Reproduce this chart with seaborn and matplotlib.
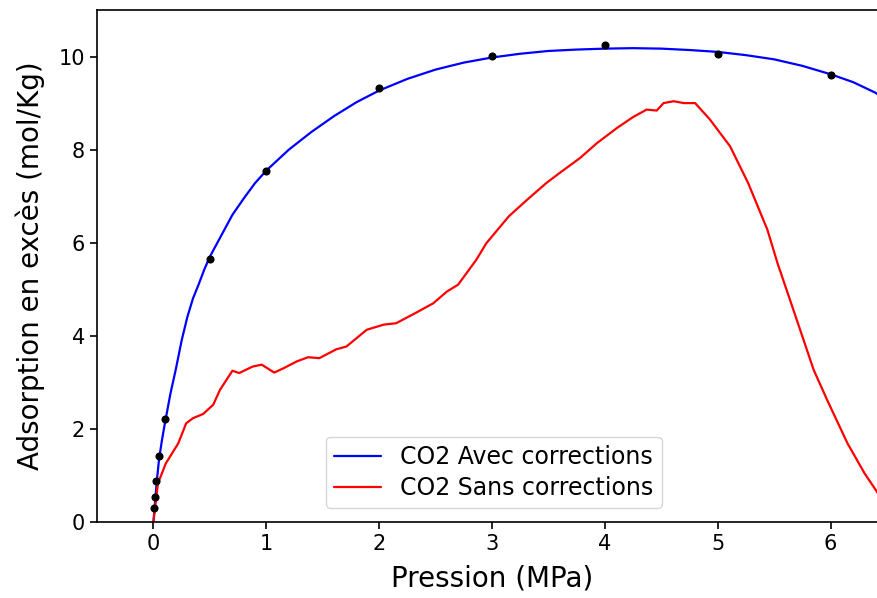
import matplotlib
matplotlib.use("Agg")
import matplotlib.pyplot as plt
import seaborn as sns
import pandas as pd

# Blue curve (CO2 avec corrections)
blue_x = [0.0, 0.01, 0.02, 0.035, 0.05, 0.075, 0.1, 0.15, 0.2, 0.25, 0.3, 0.35, 0.4, 0.45, 0.5,
          0.6, 0.7, 0.8, 0.9, 1.0, 1.2, 1.4, 1.6, 1.8, 2.0, 2.25, 2.5, 2.75, 3.0, 3.25, 3.5,
          3.75, 4.0, 4.25, 4.5, 4.75, 5.0, 5.25, 5.5, 5.75, 6.0, 6.2, 6.4, 6.6]
blue_y = [0.0, 0.3, 0.6, 1.0, 1.35, 1.75, 2.1, 2.75, 3.3, 3.9, 4.4, 4.8, 5.1, 5.42, 5.7,
          6.15, 6.6, 6.95, 7.28, 7.55, 8.0, 8.38, 8.72, 9.02, 9.27, 9.52, 9.72, 9.87, 9.98, 10.06, 10.12,
          10.15, 10.17, 10.18, 10.17, 10.14, 10.1, 10.03, 9.94, 9.8, 9.62, 9.45, 9.22, 8.85]

# Red curve (CO2 sans corrections)
red_x = [0.0, 0.04, 0.11, 0.22, 0.29, 0.35, 0.44, 0.53, 0.59, 0.70, 0.76, 0.88, 0.96, 1.07,
         1.15, 1.27, 1.37, 1.47, 1.62, 1.71, 1.80, 1.89, 2.04, 2.15, 2.33, 2.48, 2.60, 2.70,
         2.86, 2.95, 3.15, 3.31, 3.48, 3.60, 3.78, 3.93, 4.11, 4.25, 4.37, 4.46, 4.52, 4.61,
         4.70, 4.80, 4.93, 5.11, 5.27, 5.44, 5.53, 5.68, 5.85, 5.97, 6.15, 6.30, 6.43, 6.6]
red_y = [0.0, 0.83, 1.26, 1.69, 2.12, 2.23, 2.32, 2.52, 2.84, 3.25, 3.2, 3.34, 3.38, 3.21,
         3.3, 3.45, 3.54, 3.52, 3.71, 3.77, 3.95, 4.13, 4.24, 4.27, 4.5, 4.7, 4.95, 5.1,
         5.63, 5.99, 6.57, 6.92, 7.28, 7.5, 7.82, 8.14, 8.47, 8.7, 8.86, 8.84, 9.0, 9.04,
         9.0, 9.0, 8.65, 8.07, 7.28, 6.28, 5.56, 4.49, 3.27, 2.62, 1.69, 1.05, 0.58, 0.25]

# Measured points
pts_x = [0.003, 0.01, 0.02, 0.05, 0.1, 0.5, 1.0, 2.0, 3.0, 4.0, 5.0, 6.0]
pts_y = [0.3, 0.53, 0.88, 1.42, 2.22, 5.65, 7.55, 9.32, 10.02, 10.25, 10.05, 9.6]

labels = ["CO2 Avec corrections", "CO2 Sans corrections"]

sns.set_style("ticks")
plt.rcParams["font.family"] = ["DejaVu Sans"]
plt.rcParams["text.color"] = "black"
plt.rcParams["axes.labelcolor"] = "black"
plt.rcParams["xtick.color"] = "black"
plt.rcParams["ytick.color"] = "black"

fig = plt.figure(figsize=(8.78, 5.98), dpi=100)
ax = fig.add_axes([97/878, 76/598, 790/878, 512/598])

blue_df = pd.DataFrame({"x": blue_x, "y": blue_y})
red_df = pd.DataFrame({"x": red_x, "y": red_y})
pts_df = pd.DataFrame({"x": pts_x, "y": pts_y})

sns.lineplot(data=blue_df, x="x", y="y", ax=ax, color="blue", lw=1.6, sort=False, label=labels[0])
sns.lineplot(data=red_df, x="x", y="y", ax=ax, color="red", lw=1.6, sort=False, label=labels[1])
sns.scatterplot(data=pts_df, x="x", y="y", ax=ax, color="black", s=34, edgecolor="black", linewidth=0, zorder=5)

ax.set_xlim(-0.5, 6.5)
ax.set_ylim(0, 11)
ax.set_xticks([0, 1, 2, 3, 4, 5, 6])
ax.set_yticks([0, 2, 4, 6, 8, 10])
ax.tick_params(labelsize=15, length=5, width=1.2, direction="out", color="black", labelcolor="black")
for s in ax.spines.values():
    s.set_color("black")
    s.set_linewidth(1.2)
ax.set_xlabel("Pression (MPa)", fontsize=20, color="black", labelpad=8)
ax.set_ylabel("Adsorption en excès (mol/Kg)", fontsize=20, color="black", labelpad=10)

leg = ax.legend(loc="lower center", bbox_to_anchor=(0.502, 0.027), borderaxespad=0,
                fontsize=17, frameon=True, fancybox=True, edgecolor="#cccccc",
                labelspacing=0.3, borderpad=0.35)
for t in leg.get_texts():
    t.set_color("black")

fig.savefig("out.png", dpi=100)
